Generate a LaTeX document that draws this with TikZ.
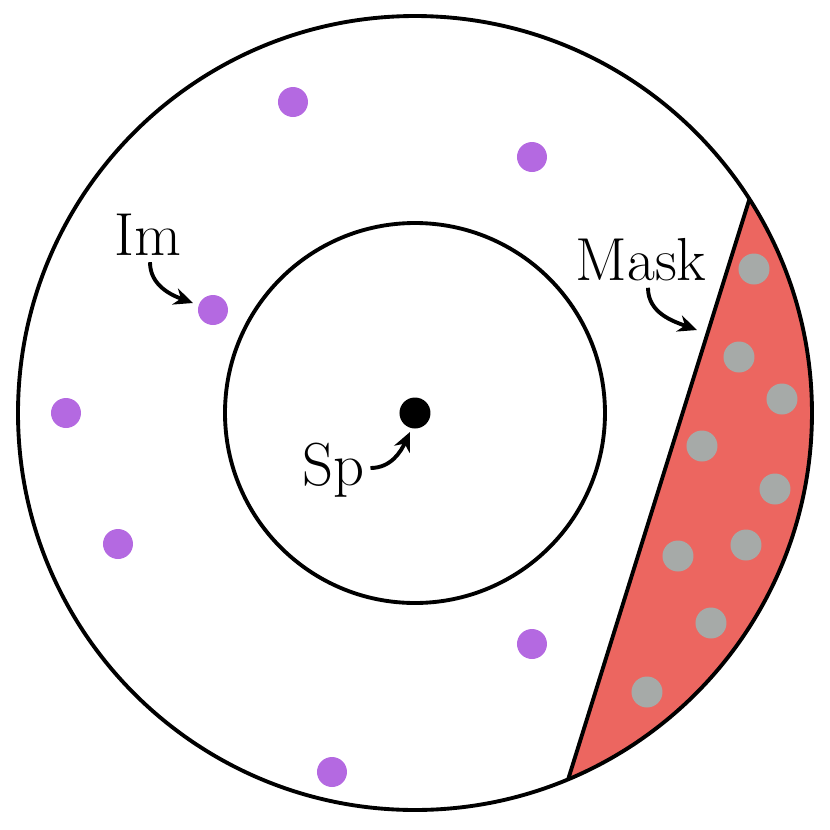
\documentclass[tikz,border=0pt]{standalone}
\usepackage{xcolor}
\definecolor{impurple}{RGB}{180,105,225}
\definecolor{maskred}{RGB}{236,102,96}
\definecolor{spgray}{RGB}{166,170,168}
\usepackage{tikz}
\usetikzlibrary{positioning}
\usetikzlibrary{arrows.meta}
\usetikzlibrary{calc}

\begin{document}
\begin{tikzpicture}[line width=1.1pt]
	\useasboundingbox (-4.15,-4.17) rectangle (4.15,4.13);

	% mask segment
	\fill[maskred] (32.6:3.97) -- (-67.3:3.97) arc[start angle=-67.3, end angle=32.6, radius=3.97] -- cycle;
	\coordinate (M1) at (32.6:3.97);
	\coordinate (M2) at (-67.3:3.97);
	\draw (M1) -- (M2);

	\draw (0,0) circle (3.97);
	\draw (0,0) circle (1.9);

	\begin{scope}[every node/.style={fill=impurple,circle,inner sep=0pt,minimum size=0.3cm}]
	    \node (I1) at (-1.22,3.11) {};
	    \node (I2) at (1.17,2.56) {};
	    \node (I3) at (-2.02,1.03) {};
	    \node (I4) at (-3.49,0) {};
	    \node (I5) at (-2.97,-1.31) {};
	    \node (I6) at (1.17,-2.31) {};
	    \node (I7) at (-0.83,-3.59) {};
	\end{scope}

	\begin{scope}[every node/.style={fill=spgray,circle,inner sep=0pt,minimum size=0.31cm}]
	    \node (G1) at (3.39,1.44) {};
	    \node (G2) at (3.24,0.56) {};
	    \node (G3) at (3.67,0.14) {};
	    \node (G4) at (2.87,-0.33) {};
	    \node (G5) at (3.60,-0.76) {};
	    \node (G6) at (3.31,-1.32) {};
	    \node (G7) at (2.63,-1.43) {};
	    \node (G8) at (2.96,-2.10) {};
	    \node (G9) at (2.32,-2.79) {};
	\end{scope}

	\node[fill=black,circle,inner sep=0pt,minimum size=0.31cm] (S) at (0,0) {};

	\begin{scope}[every node/.style={font=\LARGE,inner sep=1pt}]
	    \node (Im) at (-2.67,1.78) {Im};
	    \node (Mask) at (2.26,1.53) {Mask};
	    \node (Sp) at (-0.81,-0.57) {Sp};
	\end{scope}

	\coordinate (MaskTip) at (2.82,0.83);

	\begin{scope}[>={Stealth[length=1.9mm,width=1.7mm]}]
	    \draw[->] (Im.south) ++(0.02,-0.01) to[out=-90,in=160] ($(I3)+(-0.2,0.07)$);
	    \draw[->] (Mask.south) ++(0.07,-0.01) to[out=-90,in=160] (MaskTip);
	    \draw[->] (Sp.east) ++(0,0.02) to[out=0,in=-115] ($(S)+(-0.05,-0.19)$);
	\end{scope}
\end{tikzpicture}
\end{document}
